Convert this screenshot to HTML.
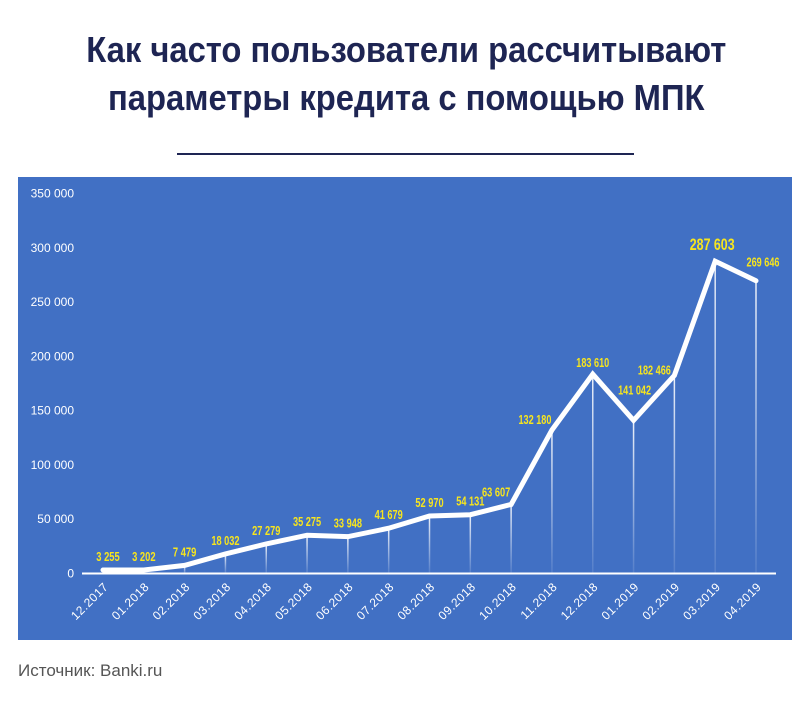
<!DOCTYPE html>
<html><head><meta charset="utf-8"><style>
body{margin:0;width:812px;height:701px;background:#fff;overflow:hidden;font-family:"Liberation Sans",sans-serif}
h1{position:absolute;left:0;top:26px;width:812px;margin:0;text-align:center;font-family:"Liberation Sans Narrow","Liberation Sans",sans-serif;font-weight:bold;font-size:36px;line-height:48px;color:#1e2553;transform:scaleX(0.91);transform-origin:409px 0}
#rule{position:absolute;left:177px;top:153px;width:457px;height:2px;background:#1e2553}
#src{position:absolute;left:18px;top:661px;font-size:17px;color:#555}
svg{position:absolute;left:0;top:0}
</style></head><body>
<h1>Как часто пользователи рассчитывают<br>параметры кредита с помощью МПК</h1>
<div id="rule"></div>
<svg id="chart" width="812" height="701">
<defs><linearGradient id="fade" x1="0" y1="0" x2="0" y2="1"><stop offset="0" stop-color="#fff" stop-opacity="0.9"/><stop offset="1" stop-color="#fff" stop-opacity="0.1"/></linearGradient></defs>
<rect x="18" y="177" width="774" height="463" fill="#4170c4"/>
</svg>
<div id="src">Источник: Banki.ru</div>
<script>
const categories=["12.2017","01.2018","02.2018","03.2018","04.2018","05.2018","06.2018","07.2018","08.2018","09.2018","10.2018","11.2018","12.2018","01.2019","02.2019","03.2019","04.2019"];
const values=[3255,3202,7479,18032,27279,35275,33948,41679,52970,54131,63607,132180,183610,141042,182466,287603,269646];
const valueLabels=["3 255","3 202","7 479","18 032","27 279","35 275","33 948","41 679","52 970","54 131","63 607","132 180","183 610","141 042","182 466","287 603","269 646"];
const yTicks=[0,50000,100000,150000,200000,250000,300000,350000];
const yTickLabels=["0","50 000","100 000","150 000","200 000","250 000","300 000","350 000"];
const NS="http://www.w3.org/2000/svg";
const svg=document.getElementById('chart');
const n=categories.length;
const x=i=>103+i*(756-103)/(n-1);
const y=v=>573.5-v*(380/350000);
function mk(t,a){const e=document.createElementNS(NS,t);for(const k in a)e.setAttribute(k,a[k]);svg.appendChild(e);return e;}
yTicks.forEach((t,i)=>{const e=mk('text',{x:74,y:y(t)+4,'text-anchor':'end',fill:'#fff','font-size':12,'font-family':'Liberation Sans, sans-serif'});e.textContent=yTickLabels[i];

});
const ax=mk('line',{x1:82,x2:776,y1:y(0),y2:y(0),stroke:'#fff','stroke-width':2});


values.forEach((v,i)=>{const l=mk('rect',{x:x(i)-0.75,y:y(v),width:1.5,height:y(0)-y(v),fill:'url(#fade)'});

});
const pl=mk('polyline',{points:values.map((v,i)=>x(i)+','+y(v)).join(' '),fill:'none',stroke:'#fff','stroke-width':5,'stroke-linejoin':'miter','stroke-linecap':'round'});


values.forEach((v,i)=>{const big=i===15;let dx=0,dy=-9;
if(i===0)dx=5;
if(i===10){dx=-15;dy=-8;} if(i===11){dx=-17;dy=-6;} if(i===12){dy=-7;} if(i===13){dx=1;dy=-26;} if(i===14){dx=-20;dy=-1;} if(i===16){dx=7;dy=-14;} if(big){dx=-3;dy=-11;}
const len=valueLabels[i].length*(big?6.4:4.7);
const t=mk('text',{x:x(i)+dx,y:y(v)+dy,'text-anchor':'middle',fill:'#f7e51e','font-size':big?17:13,'font-weight':'bold','font-family':'Liberation Sans Narrow, Liberation Sans, sans-serif',textLength:len,lengthAdjust:'spacingAndGlyphs'});t.textContent=valueLabels[i];

});
categories.forEach((c,i)=>{const px=x(i)+6,py=y(0)+14;const t=mk('text',{x:px,y:py,'text-anchor':'end',fill:'#fff','font-size':12,'letter-spacing':'0.5','font-family':'Liberation Sans, sans-serif',transform:`rotate(-45 ${px} ${py})`});t.textContent=c;

});
</script>
</body></html>
